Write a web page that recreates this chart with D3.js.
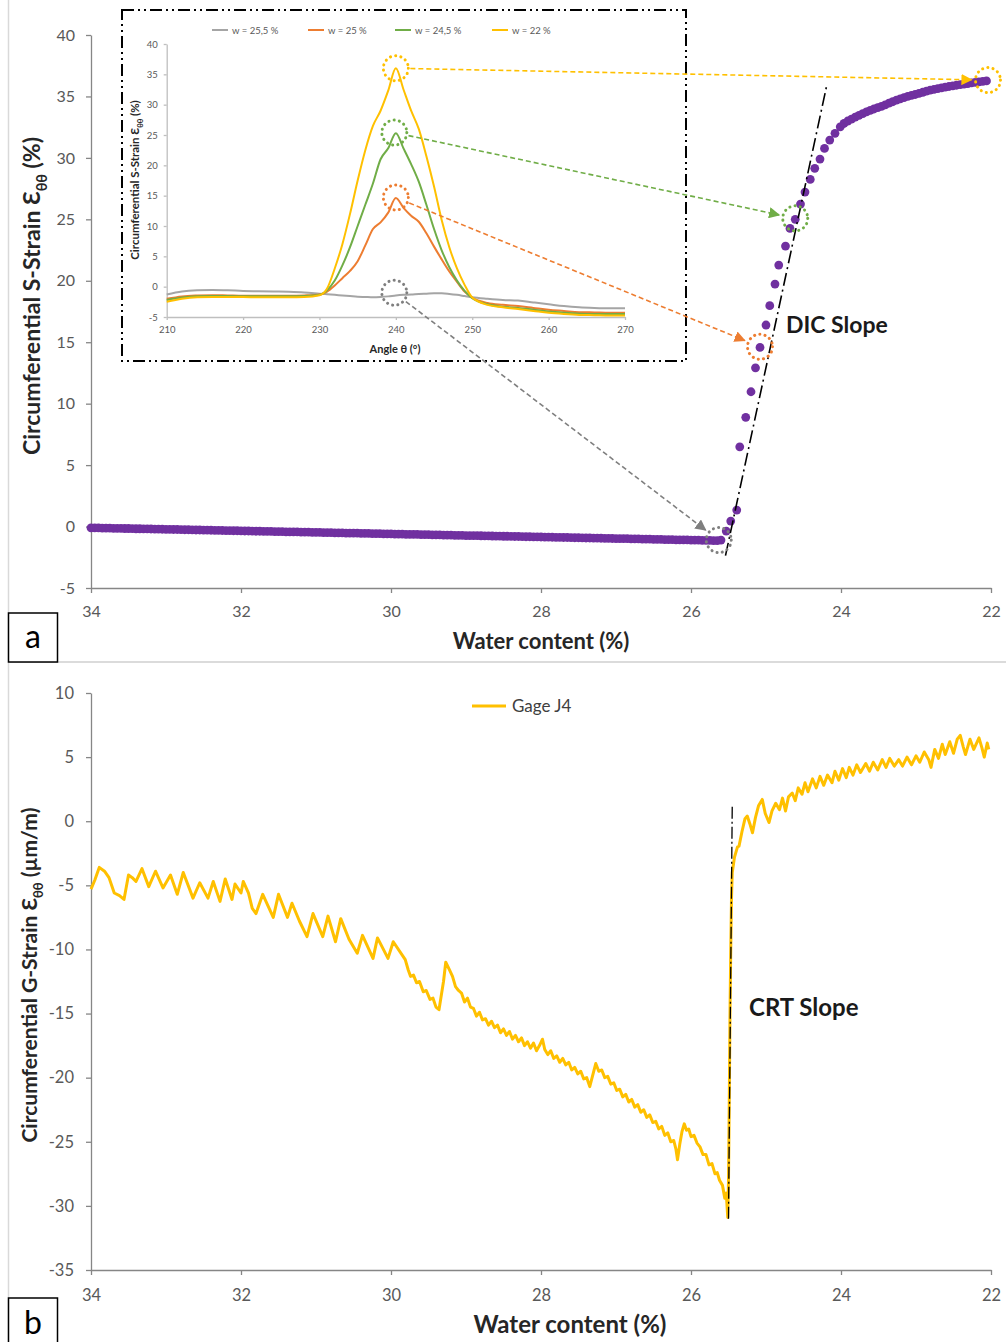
<!DOCTYPE html>
<html>
<head>
<meta charset="utf-8">
<script src="https://cdnjs.cloudflare.com/ajax/libs/d3/7.8.5/d3.min.js"></script>
<style>
  html, body { margin: 0; padding: 0; background: #fff; }
  svg { display: block; font-family: Lato, "Open Sans", "DejaVu Sans", sans-serif; }
</style>
</head>
<body>
<script>
// ---------------- DATA ----------------
const xTicks = [34, 32, 30, 28, 26, 24, 22];
const yTicksA = [-5, 0, 5, 10, 15, 20, 25, 30, 35, 40];
const yTicksB = [-35, -30, -25, -20, -15, -10, -5, 0, 5, 10];
const thetaTicks = [210, 220, 230, 240, 250, 260, 270];
const insetYTicks = [-5, 0, 5, 10, 15, 20, 25, 30, 35, 40];

// Panel a : DIC measured circumferential strain vs water content
const dicX = [
  34.00,33.95,33.90,33.85,33.80,33.75,33.70,33.65,33.60,33.55,
  33.50,33.45,33.40,33.35,33.30,33.25,33.20,33.15,33.10,33.05,
  33.00,32.95,32.90,32.85,32.80,32.75,32.70,32.65,32.60,32.55,
  32.50,32.45,32.40,32.35,32.30,32.25,32.20,32.15,32.10,32.05,
  32.00,31.95,31.90,31.85,31.80,31.75,31.70,31.65,31.60,31.55,
  31.50,31.45,31.40,31.35,31.30,31.25,31.20,31.15,31.10,31.05,
  31.00,30.95,30.90,30.85,30.80,30.75,30.70,30.65,30.60,30.55,
  30.50,30.45,30.40,30.35,30.30,30.25,30.20,30.15,30.10,30.05,
  30.00,29.95,29.90,29.85,29.80,29.75,29.70,29.65,29.60,29.55,
  29.50,29.45,29.40,29.35,29.30,29.25,29.20,29.15,29.10,29.05,
  29.00,28.95,28.90,28.85,28.80,28.75,28.70,28.65,28.60,28.55,
  28.50,28.45,28.40,28.35,28.30,28.25,28.20,28.15,28.10,28.05,
  28.00,27.95,27.90,27.85,27.80,27.75,27.70,27.65,27.60,27.55,
  27.50,27.45,27.40,27.35,27.30,27.25,27.20,27.15,27.10,27.05,
  27.00,26.95,26.90,26.85,26.80,26.75,26.70,26.65,26.60,26.55,
  26.50,26.45,26.40,26.35,26.30,26.25,26.20,26.15,26.10,26.05,
  26.00,25.95,25.90,25.85,25.80,25.75,25.70,25.65,
  25.60,25.53,25.47,25.39,25.35,25.27,25.20,25.14,25.08,25.00,
  24.95,24.88,24.83,24.74,24.68,24.61,24.54,24.48,24.41,24.35,
  24.28,24.22,24.15,24.08,24.01,
  23.96,23.91,23.86,23.81,23.76,23.71,23.66,23.61,23.56,23.51,
  23.46,23.41,23.36,23.31,23.26,23.21,23.16,23.11,23.06,23.01,
  22.96,22.91,22.86,22.81,22.76,22.71,22.66,22.61,22.56,22.51,
  22.46,22.41,22.36,22.31,22.26,22.21,22.16,22.11,22.06
];
const dicY = [
  -0.10,-0.11,-0.11,-0.12,-0.12,-0.13,-0.14,-0.14,-0.15,-0.16,
  -0.16,-0.17,-0.18,-0.18,-0.19,-0.19,-0.20,-0.21,-0.21,-0.22,
  -0.23,-0.23,-0.24,-0.24,-0.25,-0.26,-0.26,-0.27,-0.28,-0.28,
  -0.29,-0.29,-0.30,-0.31,-0.31,-0.32,-0.33,-0.33,-0.34,-0.34,
  -0.35,-0.36,-0.36,-0.37,-0.38,-0.38,-0.39,-0.39,-0.40,-0.41,
  -0.41,-0.42,-0.43,-0.43,-0.44,-0.44,-0.45,-0.46,-0.46,-0.47,
  -0.48,-0.48,-0.49,-0.49,-0.50,-0.51,-0.51,-0.52,-0.53,-0.53,
  -0.54,-0.54,-0.55,-0.56,-0.56,-0.57,-0.58,-0.58,-0.59,-0.59,
  -0.60,-0.61,-0.61,-0.62,-0.63,-0.63,-0.64,-0.64,-0.65,-0.66,
  -0.66,-0.67,-0.68,-0.68,-0.69,-0.69,-0.70,-0.71,-0.71,-0.72,
  -0.73,-0.73,-0.74,-0.74,-0.75,-0.76,-0.76,-0.77,-0.78,-0.78,
  -0.79,-0.79,-0.80,-0.81,-0.81,-0.82,-0.83,-0.83,-0.84,-0.84,
  -0.85,-0.86,-0.86,-0.87,-0.88,-0.88,-0.89,-0.89,-0.90,-0.91,
  -0.91,-0.92,-0.93,-0.93,-0.94,-0.94,-0.95,-0.96,-0.96,-0.97,
  -0.98,-0.98,-0.99,-0.99,-1.00,-1.01,-1.01,-1.02,-1.03,-1.03,
  -1.04,-1.04,-1.05,-1.06,-1.06,-1.07,-1.08,-1.08,-1.09,-1.09,
  -1.10,-1.11,-1.11,-1.12,-1.13,-1.13,-1.14,-1.15,
  -1.10,-0.37,0.45,1.34,6.49,8.89,10.97,12.92,14.58,16.40,
  17.97,19.73,21.28,22.82,24.26,25.00,26.24,27.22,28.25,29.15,
  29.90,30.77,31.45,32.00,32.53,
  32.80,33.00,33.15,33.32,33.46,33.60,33.75,33.87,33.98,34.09,
  34.20,34.32,34.45,34.57,34.70,34.80,34.90,35.00,35.08,35.16,
  35.25,35.34,35.43,35.52,35.58,35.64,35.70,35.76,35.81,35.86,
  35.91,35.96,36.00,36.05,36.10,36.14,36.18,36.22,36.26
];

// Inset : strain profile vs angle for four water contents
const theta = [210,212,214,216,218,220,222,224,226,228,230,231,232,233,234,235,236,237,238,239,240,241,242,243,244,245,246,247,248,249,250,252,254,256,258,260,262,264,266,268,270];
const seriesNames = ["w = 25,5 %", "w = 25 %", "w = 24,5 %", "w = 22 %"];
const seriesColors = ["#A5A5A5", "#ED7D31", "#70AD47", "#FFC000"];
const w255 = [-1.3,-0.8,-0.6,-0.55,-0.6,-0.7,-0.75,-0.8,-0.85,-0.95,-1.15,-1.25,-1.35,-1.45,-1.55,-1.65,-1.7,-1.75,-1.7,-1.6,-1.45,-1.35,-1.3,-1.2,-1.15,-1.1,-1.1,-1.2,-1.35,-1.55,-1.75,-2.0,-2.2,-2.3,-2.6,-2.9,-3.2,-3.4,-3.5,-3.55,-3.55];
const w25  = [-2.0,-1.6,-1.45,-1.4,-1.45,-1.5,-1.5,-1.5,-1.5,-1.45,-1.3,-0.8,0.2,1.4,2.6,4.2,6.8,9.5,10.6,12.2,14.6,13.0,11.7,10.7,8.8,6.6,4.5,2.5,0.8,-0.8,-1.8,-2.7,-3.0,-3.2,-3.5,-3.8,-4.0,-4.2,-4.25,-4.3,-4.3];
const w245 = [-2.2,-1.8,-1.6,-1.55,-1.55,-1.6,-1.6,-1.6,-1.6,-1.55,-1.35,-0.6,1.0,3.5,6.5,10.0,13.5,17.0,21.0,22.8,25.3,22.8,20.2,17.3,13.5,9.5,6.0,3.2,1.0,-0.7,-1.9,-2.9,-3.3,-3.5,-3.8,-4.1,-4.3,-4.45,-4.5,-4.5,-4.5];
const w22  = [-2.5,-2.0,-1.75,-1.7,-1.7,-1.7,-1.75,-1.75,-1.75,-1.7,-1.4,-0.3,3.0,7.0,12.0,17.5,22.5,26.5,29.0,32.3,36.0,32.5,29.0,26.0,21.5,16.5,11.0,6.5,3.0,0.3,-1.8,-3.0,-3.4,-3.7,-4.0,-4.3,-4.5,-4.65,-4.7,-4.75,-4.75];

// Panel b : gage J4 strain vs water content, [water content, strain]
const gage = [
  [34.00,-5.3],[33.95,-4.6],[33.89,-3.6],[33.82,-3.9],[33.76,-4.4],[33.69,-5.6],[33.62,-5.8],[33.56,-6.1],[33.50,-4.2],[33.45,-4.4],
  [33.40,-4.7],[33.32,-3.7],[33.23,-5.1],[33.14,-3.9],[33.04,-5.2],[32.94,-4.2],[32.85,-5.7],[32.77,-4.0],[32.64,-6.0],[32.55,-4.8],
  [32.44,-6.0],[32.37,-4.7],[32.28,-6.25],[32.21,-4.5],[32.12,-6.1],[32.08,-4.9],[32.00,-5.6],[31.97,-4.7],[31.90,-5.6],[31.85,-6.8],
  [31.80,-7.2],[31.71,-5.7],[31.57,-7.5],[31.50,-5.7],[31.38,-7.5],[31.32,-6.4],[31.22,-7.8],[31.12,-9.0],[31.04,-7.2],[30.91,-9.0],
  [30.84,-7.4],[30.74,-9.4],[30.67,-7.6],[30.56,-9.2],[30.45,-10.3],[30.38,-8.9],[30.24,-10.7],[30.18,-9.1],[30.04,-10.7],[29.97,-9.4],
  [29.81,-10.8],[29.77,-11.6],[29.74,-12.1],[29.70,-12.0],[29.66,-12.6],[29.62,-12.5],[29.57,-13.3],[29.53,-13.2],[29.48,-13.9],[29.44,-13.8],
  [29.40,-14.5],[29.36,-14.7],[29.30,-12.5],[29.27,-11.0],[29.22,-11.6],[29.18,-12.1],[29.14,-12.9],[29.10,-13.2],[29.06,-13.4],[29.02,-14.1],
  [28.98,-13.8],[28.94,-14.5],[28.90,-14.6],[28.86,-15.2],[28.82,-14.9],[28.78,-15.5],[28.74,-15.4],[28.70,-15.9],[28.66,-15.6],[28.62,-16.1],
  [28.58,-15.9],[28.54,-16.5],[28.50,-16.2],[28.46,-16.7],[28.42,-16.4],[28.38,-17.0],[28.34,-16.7],[28.30,-17.2],[28.26,-16.9],[28.22,-17.5],
  [28.18,-17.2],[28.14,-17.7],[28.10,-17.3],[28.06,-17.9],[28.02,-17.5],[27.98,-17.0],[27.95,-17.8],[27.91,-18.2],[27.87,-17.9],[27.83,-18.5],
  [27.79,-18.3],[27.75,-18.8],[27.71,-18.5],[27.67,-19.0],[27.63,-18.8],[27.59,-19.4],[27.55,-19.2],[27.51,-19.7],[27.47,-19.5],[27.43,-20.1],
  [27.39,-20.0],[27.35,-20.7],[27.31,-19.8],[27.27,-18.9],[27.23,-19.5],[27.19,-19.4],[27.15,-20.0],[27.11,-19.9],[27.07,-20.5],[27.03,-20.4],
  [26.99,-21.0],[26.95,-20.9],[26.91,-21.5],[26.87,-21.3],[26.83,-21.9],[26.79,-21.7],[26.75,-22.3],[26.71,-22.1],[26.67,-22.7],[26.63,-22.5],
  [26.59,-23.1],[26.55,-22.9],[26.51,-23.5],[26.47,-23.4],[26.43,-24.0],[26.39,-23.8],[26.35,-24.5],[26.31,-24.3],[26.27,-25.0],[26.23,-24.9],
  [26.20,-25.6],[26.18,-26.4],[26.15,-25.2],[26.12,-24.2],[26.09,-23.6],[26.06,-24.1],[26.03,-24.0],[26.00,-24.6],[25.96,-24.5],[25.92,-25.1],
  [25.88,-25.4],[25.84,-26.0],[25.80,-26.0],[25.76,-26.8],[25.72,-26.7],[25.68,-27.5],[25.65,-27.4],[25.62,-28.0],[25.58,-28.4],[25.55,-29.4],
  [25.53,-29.0],[25.51,-30.9],[25.50,-28.0],[25.49,-22.0],[25.48,-15.0],[25.47,-10.0],[25.46,-6.0],[25.45,-4.0],
  [25.42,-2.8],[25.38,-2.0],[25.36,-1.95],[25.32,-0.8],[25.28,0.2],[25.25,0.4],[25.21,-0.3],[25.18,-0.9],[25.14,0.3],[25.10,1.2],
  [25.05,1.7],[25.01,0.6],[24.96,-0.1],[24.92,0.8],[24.87,1.4],[24.82,0.9],[24.78,1.8],[24.74,0.8],[24.70,1.9],[24.65,2.2],
  [24.61,1.6],[24.57,2.6],[24.52,2.1],[24.48,3.0],[24.44,2.3],[24.38,3.3],[24.33,2.6],[24.28,3.5],[24.23,2.8],[24.18,3.6],
  [24.12,3.0],[24.08,3.9],[24.03,3.2],[23.98,4.1],[23.93,3.4],[23.89,4.2],[23.84,3.6],[23.79,4.4],[23.74,3.8],[23.67,4.5],
  [23.62,3.9],[23.57,4.6],[23.51,4.0],[23.45,4.8],[23.40,4.2],[23.35,4.9],[23.29,4.3],[23.23,4.8],[23.18,4.3],[23.12,5.0],
  [23.06,4.4],[23.00,5.1],[22.95,4.6],[22.89,5.4],[22.83,4.8],[22.80,4.2],[22.75,5.6],[22.70,4.9],[22.65,6.0],[22.61,5.2],
  [22.55,6.2],[22.50,5.3],[22.45,6.4],[22.41,6.7],[22.37,5.8],[22.34,5.2],[22.28,6.4],[22.23,5.6],[22.16,6.5],[22.12,5.7],
  [22.09,5.0],[22.05,6.1],[22.03,5.6]
];

// Annotation anchor points (data coordinates)
const insetPeaks = [ {t: 239.8, v: -1.0}, {t: 240, v: 14.7}, {t: 239.8, v: 25.4}, {t: 240, v: 36.0} ];
const mainPeaks  = [ {w: 25.63, v: -1.1}, {w: 25.08, v: 14.63}, {w: 24.61, v: 25.08}, {w: 22.04, v: 36.33} ];
const arrowColors = ["#7F7F7F", "#ED7D31", "#70AD47", "#FFC000"];
const dicSlope = [ {w: 25.54, v: -2.36}, {w: 24.19, v: 35.9} ];
const crtSlope = [ {w: 25.50, v: -31.0}, {w: 25.45, v: 1.3} ];

// ---------------- DRAWING ----------------
const W = 1006, H = 1342;
const svg = d3.select("body").append("svg").attr("width", W).attr("height", H);
svg.append("rect").attr("width", W).attr("height", H).attr("fill", "#fff");

// panel borders
svg.append("rect").attr("x", 8.5).attr("y", -2).attr("width", 1010).attr("height", 664)
  .attr("fill", "none").attr("stroke", "#D9D9D9").attr("stroke-width", 1.5);
svg.append("rect").attr("x", 8.5).attr("y", 662).attr("width", 1010).attr("height", 700)
  .attr("fill", "none").attr("stroke", "#D9D9D9").attr("stroke-width", 1.5);

const x = d3.scaleLinear().domain([34, 22]).range([91, 991]);
const yA = d3.scaleLinear().domain([-5, 40]).range([588, 35]);
const yB = d3.scaleLinear().domain([-35, 10]).range([1270, 693]);
const xi = d3.scaleLinear().domain([210, 270]).range([166.7, 625]);
const yi = d3.scaleLinear().domain([-5, 40]).range([317, 44]);
const fmt = d => String(d);

function styleAxis(g, fs, col) {
  g.select(".domain").attr("stroke", col || "#868686").attr("stroke-width", 1.3);
  g.selectAll(".tick line").attr("stroke", col || "#868686").attr("stroke-width", 1.3);
  g.selectAll(".tick text").attr("fill", "#595959").style("font-size", fs + "px")
    .style("font-family", "Lato, 'Open Sans', sans-serif");
}

// ---- Panel a axes
const gxA = svg.append("g").attr("transform", "translate(0,588)")
  .call(d3.axisBottom(x).tickValues(xTicks).tickFormat(fmt).tickSize(5).tickSizeOuter(0).tickPadding(13));
styleAxis(gxA, 16);
const gyA = svg.append("g").attr("transform", "translate(91,0)")
  .call(d3.axisLeft(yA).tickValues(yTicksA).tickFormat(fmt).tickSize(5).tickSizeOuter(0).tickPadding(11));
styleAxis(gyA, 16);

svg.append("text").attr("x", 541).attr("y", 649).attr("text-anchor", "middle")
  .style("font-size", "22px").style("font-weight", "bold").attr("fill", "#262626")
  .text("Water content (%)");

function yTitle(cx, cy, main, unit, fs) {
  const t = svg.append("text").attr("transform", `translate(${cx},${cy}) rotate(-90)`)
    .attr("text-anchor", "middle").style("font-size", fs + "px").style("font-weight", "bold").attr("fill", "#262626");
  t.append("tspan").text(main);
  t.append("tspan").attr("dy", fs * 0.3).style("font-size", (fs * 0.62) + "px").text("θθ");
  t.append("tspan").attr("dy", -fs * 0.3).text(unit);
  return t;
}
yTitle(40, 296, "Circumferential S-Strain Ɛ", " (%)", 23);

// dots
svg.append("g").selectAll("circle").data(dicX.map((d, i) => [d, dicY[i]])).join("circle")
  .attr("cx", d => x(d[0])).attr("cy", d => yA(d[1])).attr("r", 4.4).attr("fill", "#7030A0");

// DIC slope line
svg.append("line").attr("x1", x(dicSlope[0].w)).attr("y1", yA(dicSlope[0].v))
  .attr("x2", x(dicSlope[1].w)).attr("y2", yA(dicSlope[1].v))
  .attr("stroke", "#000").attr("stroke-width", 1.6).attr("stroke-dasharray", "13,4,2,4");
svg.append("text").attr("x", 786).attr("y", 333).style("font-size", "23px").style("font-weight", "bold")
  .attr("fill", "#1a1a1a").text("DIC Slope");

// ---- Inset
const inset = svg.append("g");
inset.append("rect").attr("x", 122).attr("y", 10).attr("width", 564).attr("height", 351)
  .attr("fill", "#fff").attr("stroke", "#000").attr("stroke-width", 2).attr("stroke-dasharray", "12,4,2,4,2,4");

const gxi = inset.append("g").attr("transform", `translate(0,${yi(-5)})`)
  .call(d3.axisBottom(xi).tickValues(thetaTicks).tickFormat(fmt).tickSize(3).tickSizeOuter(0).tickPadding(6));
styleAxis(gxi, 9.5, "#BFBFBF");
const gyi = inset.append("g").attr("transform", `translate(${xi(210)},0)`)
  .call(d3.axisLeft(yi).tickValues(insetYTicks).tickFormat(fmt).tickSize(3).tickSizeOuter(0).tickPadding(6));
styleAxis(gyi, 9.5, "#BFBFBF");

inset.append("text").attr("x", 395).attr("y", 353).attr("text-anchor", "middle")
  .style("font-size", "11px").style("font-weight", "bold").attr("fill", "#262626").text("Angle θ (°)");
{
  const fs = 11.5;
  const t = inset.append("text").attr("transform", `translate(139,180) rotate(-90)`)
    .attr("text-anchor", "middle").style("font-size", fs + "px").style("font-weight", "bold").attr("fill", "#262626");
  t.append("tspan").text("Circumferential S-Strain Ɛ");
  t.append("tspan").attr("dy", 3.5).style("font-size", "7.5px").text("θθ");
  t.append("tspan").attr("dy", -3.5).text(" (%)");
}

const insetSeries = [w255, w25, w245, w22];
const lineI = d3.line().x(d => xi(d[0])).y(d => yi(d[1])).curve(d3.curveMonotoneX);
insetSeries.forEach((s, k) => {
  inset.append("path").attr("d", lineI(theta.map((t, i) => [t, s[i]])))
    .attr("fill", "none").attr("stroke", seriesColors[k]).attr("stroke-width", 2);
});

// inset legend
const legX = [212, 308, 395, 492];
seriesNames.forEach((n, k) => {
  inset.append("line").attr("x1", legX[k]).attr("x2", legX[k] + 16).attr("y1", 30).attr("y2", 30)
    .attr("stroke", seriesColors[k]).attr("stroke-width", 2);
  inset.append("text").attr("x", legX[k] + 20).attr("y", 33.5).style("font-size", "9.5px")
    .attr("fill", "#595959").text(n);
});

// ---- annotation circles & arrows
const defs = svg.append("defs");
arrowColors.forEach((c, k) => {
  defs.append("marker").attr("id", "ah" + k).attr("viewBox", "0 0 10 10").attr("refX", 9).attr("refY", 5)
    .attr("markerWidth", 7).attr("markerHeight", 7).attr("orient", "auto-start-reverse")
    .append("path").attr("d", "M0,0 L10,5 L0,10 z").attr("fill", c);
});
const R = 12.5;
function dotCircle(cx, cy, c) {
  svg.append("circle").attr("cx", cx).attr("cy", cy).attr("r", R).attr("fill", "none")
    .attr("stroke", c).attr("stroke-width", 3).attr("stroke-dasharray", "0.1,5.2").attr("stroke-linecap", "round");
}
insetPeaks.forEach((p, k) => {
  const sx = xi(p.t), sy = yi(p.v);
  const m = mainPeaks[k];
  const ex = x(m.w), ey = yA(m.v);
  const dx = ex - sx, dy = ey - sy, L = Math.hypot(dx, dy);
  const ux = dx / L, uy = dy / L;
  svg.append("line").attr("x1", sx + ux * (R + 2)).attr("y1", sy + uy * (R + 2))
    .attr("x2", ex - ux * (R + 4)).attr("y2", ey - uy * (R + 4))
    .attr("stroke", arrowColors[k]).attr("stroke-width", 1.6).attr("stroke-dasharray", "5,3")
    .attr("marker-end", `url(#ah${k})`);
  dotCircle(sx, sy, arrowColors[k]);
  dotCircle(ex, ey, arrowColors[k]);
});

// label box a
svg.append("rect").attr("x", 8.5).attr("y", 613).attr("width", 49).attr("height", 49)
  .attr("fill", "#fff").attr("stroke", "#000").attr("stroke-width", 1.5);
svg.append("text").attr("x", 33).attr("y", 648).attr("text-anchor", "middle").style("font-size", "32px")
  .attr("fill", "#000").text("a");

// ---- Panel b
const gxB = svg.append("g").attr("transform", "translate(0,1270)")
  .call(d3.axisBottom(x).tickValues(xTicks).tickFormat(fmt).tickSize(5).tickSizeOuter(0).tickPadding(14));
styleAxis(gxB, 16.5);
const gyB = svg.append("g").attr("transform", "translate(91,0)")
  .call(d3.axisLeft(yB).tickValues(yTicksB).tickFormat(fmt).tickSize(5).tickSizeOuter(0).tickPadding(12));
styleAxis(gyB, 16.5);

svg.append("text").attr("x", 570).attr("y", 1333).attr("text-anchor", "middle")
  .style("font-size", "24px").style("font-weight", "bold").attr("fill", "#262626")
  .text("Water content (%)");
yTitle(37, 975, "Circumferential G-Strain Ɛ", " (µm/m)", 21);

const lineB = d3.line().x(d => x(d[0])).y(d => yB(d[1]));
svg.append("path").attr("d", lineB(gage))
  .attr("fill", "none").attr("stroke", "#FFC000").attr("stroke-width", 3).attr("stroke-linejoin", "round");

svg.append("line").attr("x1", x(crtSlope[0].w)).attr("y1", yB(crtSlope[0].v))
  .attr("x2", x(crtSlope[1].w)).attr("y2", yB(crtSlope[1].v))
  .attr("stroke", "#000").attr("stroke-width", 1.3).attr("stroke-dasharray", "12,3,2,3");
svg.append("text").attr("x", 749).attr("y", 1016).style("font-size", "24px").style("font-weight", "bold")
  .attr("fill", "#1a1a1a").text("CRT Slope");

// legend b
svg.append("line").attr("x1", 472).attr("x2", 506).attr("y1", 706).attr("y2", 706)
  .attr("stroke", "#FFC000").attr("stroke-width", 3);
svg.append("text").attr("x", 512).attr("y", 712).style("font-size", "17px").attr("fill", "#404040").text("Gage J4");

// label box b
svg.append("rect").attr("x", 8.5).attr("y", 1298).attr("width", 49).attr("height", 50)
  .attr("fill", "#fff").attr("stroke", "#000").attr("stroke-width", 1.5);
svg.append("text").attr("x", 33).attr("y", 1334).attr("text-anchor", "middle").style("font-size", "32px")
  .attr("fill", "#000").text("b");
</script>
</body>
</html>
